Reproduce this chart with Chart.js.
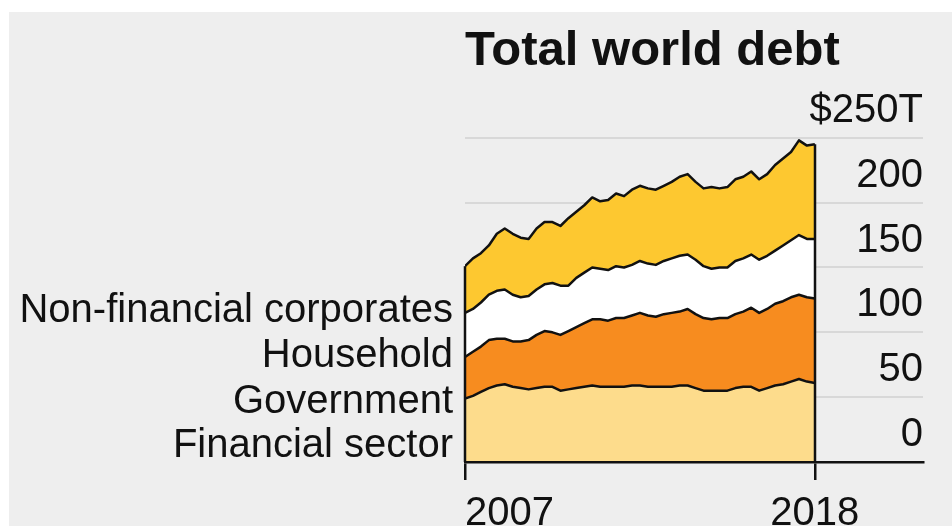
<!DOCTYPE html>
<html>
<head>
<meta charset="utf-8">
<script src="https://cdn.jsdelivr.net/npm/chart.js@4.4.1/dist/chart.umd.min.js"></script>
<style>
  html, body { margin: 0; padding: 0; background: #fff; overflow: hidden; }
  #wrap { position: relative; width: 952px; height: 548px; }
</style>
</head>
<body>
<div id="wrap"><canvas id="debtChart"></canvas></div>
<script>
// quarterly data, $ trillions
const quarters = [
  '2007Q1','2007Q2','2007Q3','2007Q4','2008Q1','2008Q2','2008Q3','2008Q4',
  '2009Q1','2009Q2','2009Q3','2009Q4','2010Q1','2010Q2','2010Q3','2010Q4',
  '2011Q1','2011Q2','2011Q3','2011Q4','2012Q1','2012Q2','2012Q3','2012Q4',
  '2013Q1','2013Q2','2013Q3','2013Q4','2014Q1','2014Q2','2014Q3','2014Q4',
  '2015Q1','2015Q2','2015Q3','2015Q4','2016Q1','2016Q2','2016Q3','2016Q4',
  '2017Q1','2017Q2','2017Q3','2017Q4','2018Q1'
];
const financial = [49,51,54,57,59,60,58,57,56,57,58,58,55,56,57,58,59,58,58,58,58,59,59,58,58,58,58,59,59,57,55,55,55,55,57,58,58,55,57,59,60,62,64,62,61];
const government = [32,34,35,37,36,35,35,36,38,41,43,42,43,45,47,49,51,52,51,53,53,54,56,55,54,56,57,57,59,57,56,55,56,56,57,58,61,60,61,63,64,65,65,65,65];
const household = [34,33,34,35,37,38,36,34,34,35,36,38,38,35,38,39,40,39,39,40,39,39,40,40,40,41,42,43,42,42,40,39,39,39,41,41,41,41,41,41,43,44,46,45,46];
const corporates = [36,39,38,38,44,47,47,46,44,47,48,47,46,52,51,52,54,52,54,56,55,58,58,58,58,58,59,61,62,60,60,63,61,62,63,63,64,62,63,66,67,68,73,72,73];

const seriesNames = ['Financial sector', 'Government', 'Household', 'Non-financial corporates'];
const seriesColors = ['#FDDC8C', '#F78C1F', '#FFFFFF', '#FDC830'];
const yTicks = [0, 50, 100, 150, 200, 250];
const xTickYears = [2007, 2018];

const qx = q => parseInt(q.slice(0, 4)) + (parseInt(q.slice(5)) - 1) / 4;
const toPoints = arr => arr.map((v, i) => ({ x: qx(quarters[i]), y: v }));

const ink = '#111111';
const font = '"Liberation Sans", Arial, sans-serif';
const xMax = 2021.4;

// gray panel with white margin on top/left
const panelBg = {
  id: 'panelBg',
  beforeDraw(chart) {
    const c = chart.ctx;
    c.save();
    c.fillStyle = '#ffffff';
    c.fillRect(0, 0, chart.width, chart.height);
    c.fillStyle = '#EEEEEE';
    c.fillRect(9, 12, chart.width - 9, chart.height - 12);
    c.restore();
  }
};

// series names on the left and the closing edges of the stack
const sideLabels = {
  id: 'sideLabels',
  afterDatasetsDraw(chart) {
    const c = chart.ctx;
    const top = chart.getDatasetMeta(chart.data.datasets.length - 1).data;
    const bottom = chart.chartArea.bottom;
    c.save();
    c.strokeStyle = ink;
    c.lineWidth = 2.5;
    [top[0], top[top.length - 1]].forEach(p => {
      c.beginPath();
      c.moveTo(Math.round(p.x), p.y);
      c.lineTo(Math.round(p.x), bottom);
      c.stroke();
    });
    c.fillStyle = ink;
    c.font = '40px ' + font;
    c.textAlign = 'right';
    c.textBaseline = 'middle';
    const ys = [446, 402, 356, 311];
    seriesNames.forEach((n, i) => c.fillText(n, 453, ys[i]));
    c.restore();
  }
};

const series = [financial, government, household, corporates];
const datasets = series.map((arr, i) => ({
  label: seriesNames[i],
  data: toPoints(arr),
  backgroundColor: seriesColors[i],
  borderColor: ink,
  borderWidth: 2.5,
  borderJoinStyle: 'round',
  pointRadius: 0,
  tension: 0,
  fill: i === 0 ? 'origin' : '-1'
}));

new Chart(document.getElementById('debtChart'), {
  type: 'line',
  data: { datasets: datasets },
  plugins: [panelBg, sideLabels],
  options: {
    responsive: true,
    maintainAspectRatio: false,
    animation: false,
    layout: { padding: { left: 465, right: 29, top: 0, bottom: 0 } },
    scales: {
      x: {
        type: 'linear',
        min: 2007,
        max: xMax,
        afterBuildTicks: scale => {
          scale.ticks = xTickYears.concat([xMax]).map(v => ({ value: v }));
        },
        border: { display: true, color: ink, width: 2.5, z: 1 },
        grid: {
          drawOnChartArea: false,
          drawTicks: true,
          tickLength: 18,
          lineWidth: 2.5,
          color: ctx => (ctx.tick && ctx.tick.value > 2018) ? 'rgba(0,0,0,0)' : ink
        },
        ticks: {
          autoSkip: false,
          maxRotation: 0,
          align: 'inner',
          padding: 18,
          color: ink,
          font: { family: font, size: 40, lineHeight: 0.8 },
          callback: v => xTickYears.includes(v) ? String(v) : ''
        }
      },
      y: {
        position: 'right',
        stacked: true,
        min: 0,
        max: 250,
        afterBuildTicks: scale => {
          scale.ticks = yTicks.map(v => ({ value: v }));
        },
        border: { display: false },
        grid: {
          drawTicks: false,
          lineWidth: 2,
          color: ctx => (ctx.tick && ctx.tick.value === 0) ? ink : '#D8D8D8'
        },
        ticks: {
          mirror: true,
          padding: 0,
          labelOffset: -27,
          color: ink,
          font: { family: font, size: 40 },
          callback: v => v === 250 ? '$250T' : String(v)
        }
      }
    },
    plugins: {
      legend: { display: false },
      tooltip: { enabled: false },
      title: {
        display: true,
        text: 'Total world debt',
        align: 'start',
        color: ink,
        font: { family: font, size: 49, weight: 'bold', lineHeight: 1.2 },
        padding: { top: 22, bottom: 57 }
      }
    }
  }
});
</script>
</body>
</html>
